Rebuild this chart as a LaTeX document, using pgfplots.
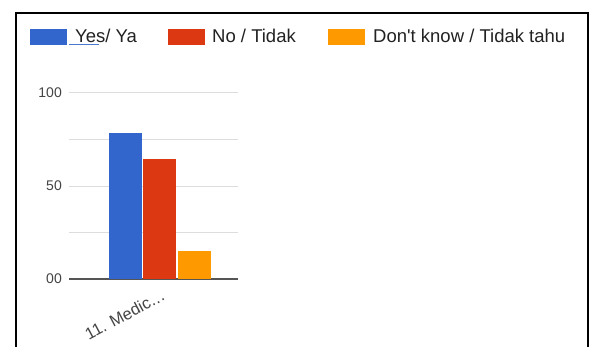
\documentclass[border=0pt]{standalone}
\usepackage{pgfplots}
\pgfplotsset{compat=1.18}
\usepackage{fontspec}
\setmainfont{Liberation Sans}
\newfontfamily\nolig{Liberation Sans}
\definecolor{gblue}{HTML}{3366CC}
\definecolor{gred}{HTML}{DC3912}
\definecolor{gorange}{HTML}{FF9900}
\definecolor{ticktext}{HTML}{444444}
\definecolor{legtext}{HTML}{222222}
\definecolor{gridc}{HTML}{DDDDDD}
\definecolor{axisc}{HTML}{555555}
\definecolor{ulblue}{HTML}{4A78D0}
\begin{document}
\begin{tikzpicture}[x=1bp,y=1bp]
\useasboundingbox (0,0) rectangle (592,346);
\fill[white] (0,0) rectangle (592,346);
\draw[black,line width=2bp] (16,-5) -- (16,333) -- (588,333) -- (588,-5);
\begin{axis}[
  at={(69bp,67bp)}, anchor=south west,
  scale only axis, width=169bp, height=186bp,
  xmin=-90.5, xmax=78.5, ymin=0, ymax=100,
  ybar=1.5bp, bar width=33bp,
  axis line style={draw=none},
  major tick length=0pt,
  xtick={0}, xticklabels={{11. Medic\kern0.5bp.\kern0.5bp.\kern0.5bp.}},
  xticklabel style={rotate=28, anchor=north east, inner sep=0pt, xshift=-4bp, yshift=-9bp,
    font=\fontsize{16.5bp}{18bp}\selectfont, text=ticktext},
  ytick={25,50,75,100}, yticklabels={,50,,100},
  extra y ticks={0}, extra y tick labels={00},
  extra y tick style={grid style={draw=axisc,line width=1.6bp}},
  yticklabel style={inner sep=0pt, xshift=-7bp, font=\fontsize{14bp}{15bp}\selectfont, text=ticktext},
  /pgf/number format/assume math mode=true,
  ymajorgrids, grid style={draw=gridc, line width=1bp},
  legend columns=3,
  legend style={draw=none, fill=none, inner sep=0pt, at={(-0.2308,1.301)}, anchor=west,
    nodes={inner sep=0pt, font=\fontsize{18.5bp}{20bp}\selectfont, text=legtext},
    /tikz/every even column/.append style={column sep=0pt},
    /tikz/every odd column/.append style={column sep=0pt}},
  legend image code/.code={\fill[#1] (0bp,-8bp) rectangle (37bp,8bp);},
]
\addplot[fill=gblue, draw=none] coordinates {(0,78.5)};
\addplot[fill=gred, draw=none] coordinates {(0,64.5)};
\addplot[fill=gorange, draw=none] coordinates {(0,15)};
\legend{{\makebox[101bp][l]{\hspace{2bp}\rlap{\textcolor{ulblue}{\rule[-2.5bp]{30bp}{1.3bp}}}\hspace{6bp}Yes/ Ya}},
        {\makebox[123bp][l]{\hspace{7bp}No / Tidak}},
        {\hspace{8bp}Don{\nolig'}t know / Tidak tahu}}
\end{axis}
\end{tikzpicture}
\end{document}
